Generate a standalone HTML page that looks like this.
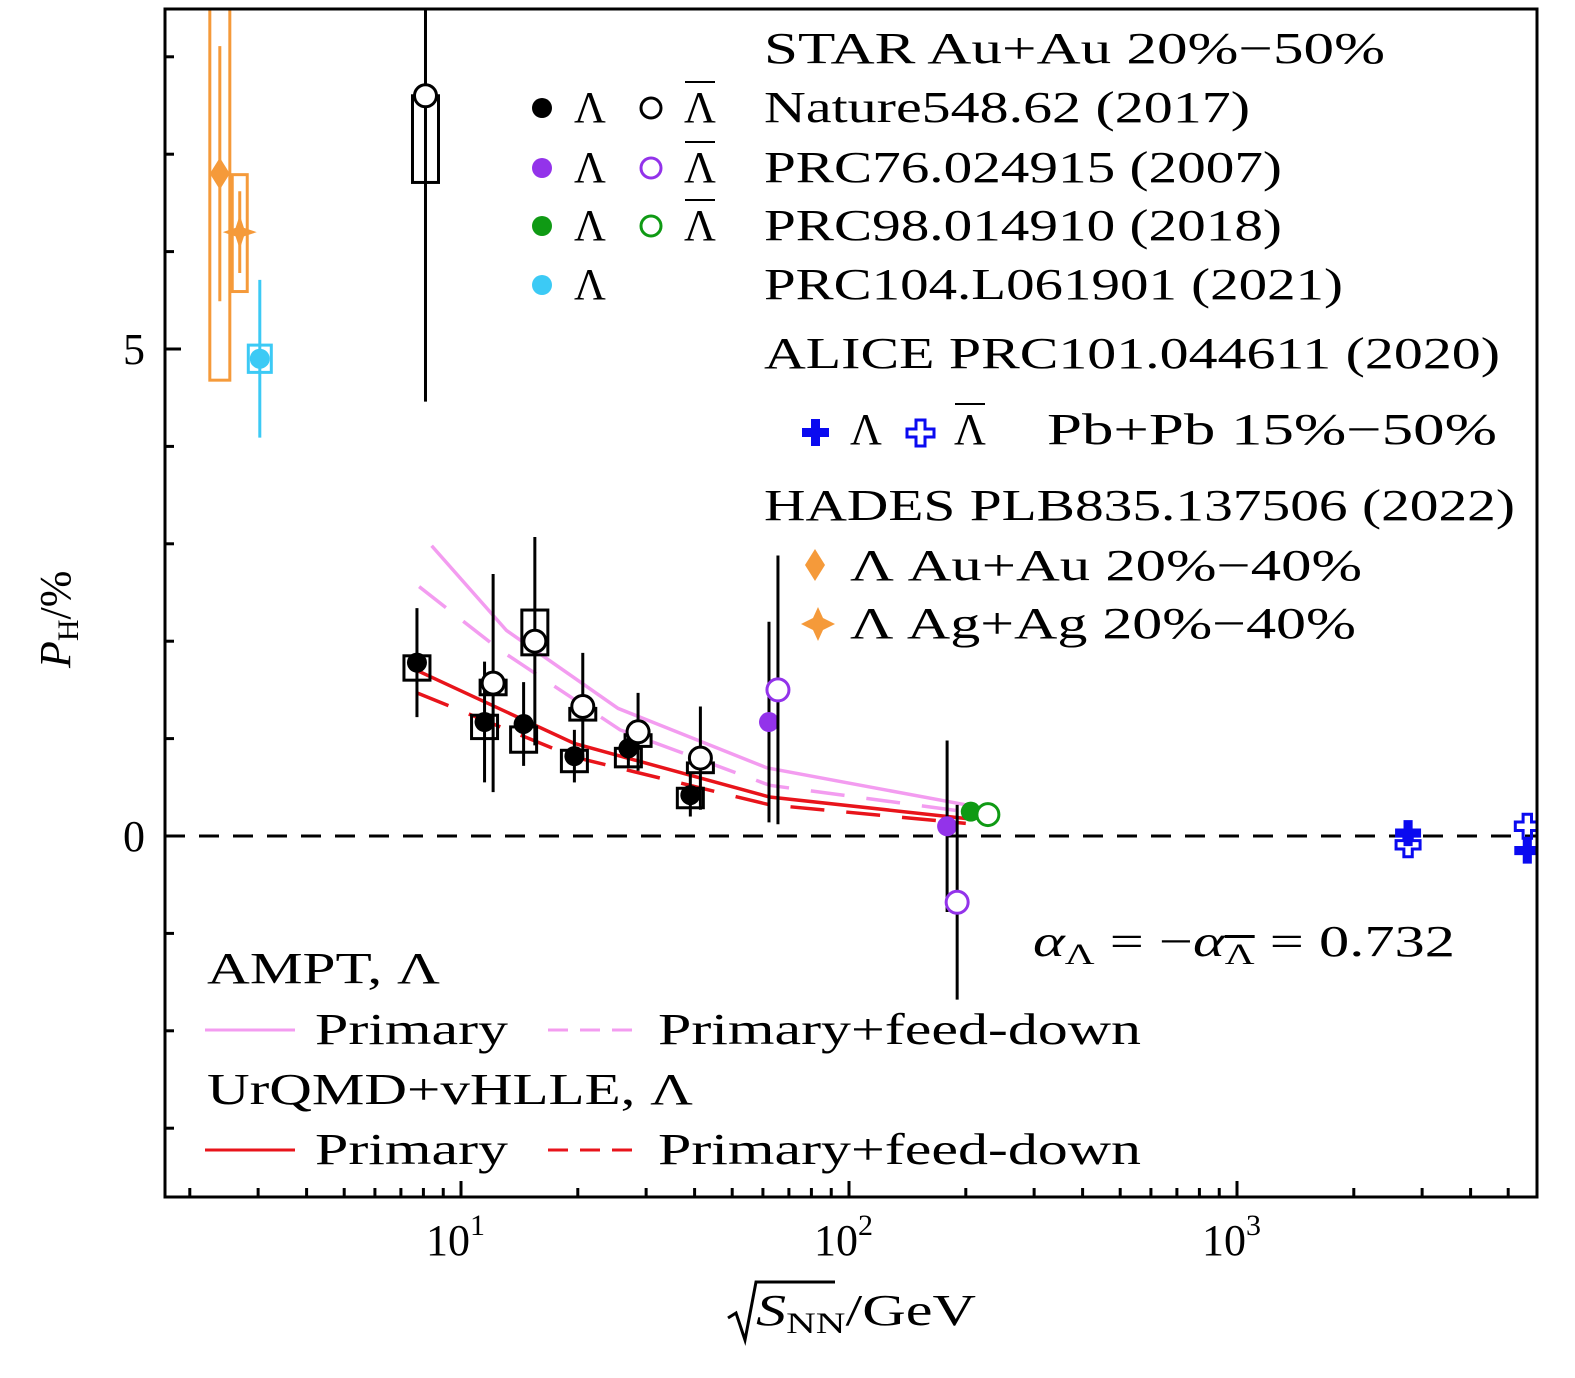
<!DOCTYPE html>
<html><head><meta charset="utf-8"><style>
html,body{margin:0;padding:0;background:#fff}
svg{display:block}
text{font-family:"Liberation Serif",serif;fill:#000}
</style></head><body>
<svg id="chart" width="1575" height="1378" viewBox="0 0 1575 1378" xmlns="http://www.w3.org/2000/svg">
<defs><clipPath id="clip"><rect x="165" y="9" width="1372" height="1188"/></clipPath></defs>
<g id="marks" clip-path="url(#clip)"></g>
<g id="axes"></g>
</svg>
<script>
// ---- data ----
const starX = [7.7, 11.5, 14.5, 19.6, 27, 39];
const starLam = [1.78, 1.17, 1.15, 0.82, 0.90, 0.42];
const starLamErr = [0.56, 0.62, 0.43, 0.27, 0.18, 0.22];
const starLamSysLo = [1.60, 1.00, 0.86, 0.66, 0.71, 0.29];
const starLamSysHi = [1.85, 1.24, 1.12, 0.88, 0.90, 0.49];
const starBarX = [8.1, 12.1, 15.5, 20.6, 28.6, 41.4];
const starBar = [7.60, 1.57, 2.00, 1.33, 1.07, 0.80];
const starBarErr = [3.14, 1.12, 1.07, 0.55, 0.40, 0.53];
const starBarSysLo = [6.71, 1.45, 1.86, 1.19, 0.92, 0.65];
const starBarSysHi = [7.60, 1.60, 2.32, 1.31, 1.04, 0.75];
const prc76X = [62.2, 179];
const prc76Lam = [1.17, 0.10];
const prc76LamErr = [1.03, 0.88];
const prc76BarX = [65.6, 190];
const prc76Bar = [1.50, -0.68];
const prc76BarErr = [1.38, 1.0];
const prc98X = [206];
const prc98Lam = [0.25];
const prc98BarX = [228];
const prc98Bar = [0.22];
const prc104X = [3.03];
const prc104Lam = [4.90];
const prc104Err = [0.81];
const hadesAuX = [2.39];
const hadesAu = [6.80];
const hadesAuErr = [1.31];
const hadesAuSys = [4.68, 8.60];
const hadesAgX = [2.69];
const hadesAg = [6.20];
const hadesAgErr = [0.42];
const hadesAgSys = [5.59, 6.79];
const aliceX = [2760, 5600];
const aliceLam = [0.03, -0.15];
const aliceBar = [-0.09, 0.10];
const amptPrimX = [8.4, 13.1, 25.4, 61.4, 200];
const amptPrim = [2.98, 2.11, 1.31, 0.70, 0.32];
const amptFdX = [7.8, 12.6, 25.7, 62.5, 199];
const amptFd = [2.56, 1.91, 1.09, 0.52, 0.25];
const urqPrimX = [7.7, 19.6, 62.4, 200];
const urqPrim = [1.70, 0.95, 0.40, 0.18];
const urqFdX = [7.7, 19.6, 62.4, 200];
const urqFd = [1.47, 0.81, 0.32, 0.13];
const yTicks = [0, 5];
const xTickLabels = ["1", "2", "3"];

// ---- axes functions ----
const L=165,R=1537,T=9,B=1197;
function X(v){return 461+(Math.log10(v)-1)*388;}
function Y(v){return 836-v*97.4;}
const NS="http://www.w3.org/2000/svg";
function mk(parent,tag,attrs){const e=document.createElementNS(NS,tag);for(const k in attrs)e.setAttribute(k,attrs[k]);document.getElementById(parent).appendChild(e);return e;}

let z=mk('marks','line',{x1:L,x2:R,y1:Y(0),y2:Y(0),stroke:'#000','stroke-width':3,'stroke-dasharray':'20 14'});



function curve(xs,ys,color,dash,name){
  const p=mk('marks','polyline',{points:xs.map((x,i)=>X(x)+','+Y(ys[i])).join(' '),fill:'none',stroke:color,'stroke-width':3.5});
  if(dash)p.setAttribute('stroke-dasharray',dash);
  
  
}
curve(amptPrimX,amptPrim,'#f39cf0',null,'ampt-primary-curve');
curve(amptFdX,amptFd,'#f39cf0','34 22','ampt-feeddown-curve');
curve(urqPrimX,urqPrim,'#e8141b',null,'urqmd-primary-curve');
curve(urqFdX,urqFd,'#e8141b','34 22','urqmd-feeddown-curve');

function errbar(x,y,e,color,name){
  const l=mk('marks','line',{x1:X(x),x2:X(x),y1:Y(y+e),y2:Y(y-e),stroke:color,'stroke-width':3});
  
  
}
function sysbox(x,lo,hi,w,color,name){
  const r=mk('marks','rect',{x:X(x)-w/2,y:Y(hi),width:w,height:Y(lo)-Y(hi),fill:'none',stroke:color,'stroke-width':3});
  
  
}
function circ(x,y,color,filled,name){
  const c=mk('marks','circle',{cx:X(x),cy:Y(y),r:filled?10:11,fill:filled?color:'#fff',stroke:color,'stroke-width':filled?0:3});
  
  
}
function crossPath(cx,cy,s){const a=s*0.35,b=s;return `M${cx-a},${cy-b}H${cx+a}V${cy-a}H${cx+b}V${cy+a}H${cx+a}V${cy+b}H${cx-a}V${cy+a}H${cx-b}V${cy-a}H${cx-a}Z`;}

starX.forEach((x,i)=>{
  sysbox(x,starLamSysLo[i],starLamSysHi[i],26,'#000','star-lambda-sys');
  errbar(x,starLam[i],starLamErr[i],'#000','star-lambda-err');
  circ(x,starLam[i],'#000',true,'star-lambda-point');
});
starBarX.forEach((x,i)=>{
  sysbox(x,starBarSysLo[i],starBarSysHi[i],26,'#000','star-antilambda-sys');
  errbar(x,starBar[i],starBarErr[i],'#000','star-antilambda-err');
  circ(x,starBar[i],'#000',false,'star-antilambda-point');
});
prc76X.forEach((x,i)=>{errbar(x,prc76Lam[i],prc76LamErr[i],'#000','prc76-lambda-err');circ(x,prc76Lam[i],'#9333ea',true,'prc76-lambda-point');});
prc76BarX.forEach((x,i)=>{errbar(x,prc76Bar[i],prc76BarErr[i],'#000','prc76-antilambda-err');circ(x,prc76Bar[i],'#9333ea',false,'prc76-antilambda-point');});
prc98X.forEach((x,i)=>circ(x,prc98Lam[i],'#0f9a14',true,'prc98-lambda-point'));
prc98BarX.forEach((x,i)=>circ(x,prc98Bar[i],'#0f9a14',false,'prc98-antilambda-point'));
prc104X.forEach((x,i)=>{errbar(x,prc104Lam[i],prc104Err[i],'#3ccaf5','prc104-err');sysbox(x,prc104Lam[i]-0.14,prc104Lam[i]+0.14,23,'#3ccaf5','prc104-sys');circ(x,prc104Lam[i],'#3ccaf5',true,'prc104-point');});
hadesAuX.forEach((x,i)=>{
  sysbox(x,hadesAuSys[0],hadesAuSys[1],20,'#f59a3a','hades-au-sys');
  errbar(x,hadesAu[i],hadesAuErr[i],'#f59a3a','hades-au-err');
  const cx=X(x),cy=Y(hadesAu[i]);
  const d=mk('marks','path',{d:`M${cx},${cy-16}L${cx+10},${cy}L${cx},${cy+16}L${cx-10},${cy}Z`,fill:'#f59a3a'});
  
  
});
function starPath(cx,cy,r){let p='';for(let k=0;k<8;k++){const a=-Math.PI/2+k*Math.PI/4;const rr=k%2?r*0.35:r;p+=(k?'L':'M')+(cx+rr*Math.cos(a))+','+(cy+rr*Math.sin(a));}return p+'Z';}
hadesAgX.forEach((x,i)=>{
  sysbox(x,hadesAgSys[0],hadesAgSys[1],15,'#f59a3a','hades-ag-sys');
  errbar(x,hadesAg[i],hadesAgErr[i],'#f59a3a','hades-ag-err');
  const s=mk('marks','path',{d:starPath(X(x),Y(hadesAg[i]),17),fill:'#f59a3a'});
  
  
});
aliceX.forEach((x,i)=>{
  const a=mk('marks','path',{d:crossPath(X(x),Y(aliceLam[i]),13),fill:'#0a0af0'});
  
  
  const b=mk('marks','path',{d:crossPath(X(x),Y(aliceBar[i]),12),fill:'none',stroke:'#0a0af0','stroke-width':3});
  
  
});

let fr=mk('axes','rect',{x:L,y:T,width:R-L,height:B-T,fill:'none',stroke:'#000','stroke-width':3});


for(let v=-3;v<=8;v++){
  const major=yTicks.includes(v);
  const t=mk('axes','line',{x1:L,x2:L+(major?16:9),y1:Y(v),y2:Y(v),stroke:'#000','stroke-width':3});
  
  
}
yTicks.forEach(v=>{
  const t=mk('axes','text',{x:145,y:Y(v)+15,'font-size':44,'text-anchor':'end'});
  t.textContent=String(v);
  
  
});
for(let e=0;e<=3;e++){for(let m=1;m<10;m++){const v=m*Math.pow(10,e);const x=X(v);if(x<L||x>R)continue;
  const t=mk('axes','line',{x1:x,x2:x,y1:B,y2:B-(m==1?16:9),stroke:'#000','stroke-width':3});
  
  }}
xTickLabels.forEach((s,i)=>{
  const t=mk('axes','text',{x:X(Math.pow(10,i+1))-35,y:1255,'font-size':44});
  t.innerHTML='10<tspan dy="-20" font-size="30">'+s+'</tspan>';
  
  
});
</script>
<svg style="position:absolute;left:0;top:0" width="1575" height="1378">
<g font-family="Liberation Serif, serif" font-size="44">
<text transform="translate(70,668) rotate(-90)"><tspan font-style="italic">P</tspan><tspan font-size="30" dy="8">H</tspan><tspan dy="-8">/%</tspan></text>
<g>
<path d="M728,1318 L736,1313 L745,1340 L756,1282 L835,1282" fill="none" stroke="#000" stroke-width="3"/>
<text x="756" y="1325" textLength="220" lengthAdjust="spacingAndGlyphs"><tspan font-style="italic">S</tspan><tspan font-size="30" dy="8">NN</tspan><tspan dy="-8">/GeV</tspan></text>
</g>
<text x="764" y="63" textLength="621" lengthAdjust="spacingAndGlyphs">STAR Au+Au 20%−50%</text>
<circle cx="542" cy="108" r="10" fill="#000"/><text x="574" y="122">Λ</text>
<circle cx="651" cy="108" r="10" fill="#fff" stroke="#000" stroke-width="3"/><text x="684" y="122">Λ</text><line x1="685" x2="715" y1="82" y2="82" stroke="#000" stroke-width="2"/>
<text x="764" y="122" textLength="486" lengthAdjust="spacingAndGlyphs">Nature548.62 (2017)</text>
<circle cx="542" cy="168" r="10" fill="#9333ea"/><text x="574" y="182">Λ</text>
<circle cx="651" cy="168" r="10" fill="#fff" stroke="#9333ea" stroke-width="3"/><text x="684" y="182">Λ</text><line x1="685" x2="715" y1="142" y2="142" stroke="#000" stroke-width="2"/>
<text x="764" y="182" textLength="518" lengthAdjust="spacingAndGlyphs">PRC76.024915 (2007)</text>
<circle cx="542" cy="226" r="10" fill="#0f9a14"/><text x="574" y="240">Λ</text>
<circle cx="651" cy="226" r="10" fill="#fff" stroke="#0f9a14" stroke-width="3"/><text x="684" y="240">Λ</text><line x1="685" x2="715" y1="200" y2="200" stroke="#000" stroke-width="2"/>
<text x="764" y="240" textLength="518" lengthAdjust="spacingAndGlyphs">PRC98.014910 (2018)</text>
<circle cx="542" cy="285" r="10" fill="#3ccaf5"/><text x="574" y="299">Λ</text>
<text x="764" y="299" textLength="579" lengthAdjust="spacingAndGlyphs">PRC104.L061901 (2021)</text>
<text x="764" y="368" textLength="736" lengthAdjust="spacingAndGlyphs">ALICE PRC101.044611 (2020)</text>
<path d="M811,419H820V428H829V437H820V446H811V437H802V428H811Z" fill="#0a0af0"/>
<text x="850" y="444">Λ</text>
<path d="M916,420H925V429H934V437H925V446H916V437H907V429H916Z" fill="none" stroke="#0a0af0" stroke-width="3"/>
<text x="954" y="444">Λ</text><line x1="955" x2="985" y1="404" y2="404" stroke="#000" stroke-width="2"/>
<text x="1047" y="444" textLength="450" lengthAdjust="spacingAndGlyphs">Pb+Pb 15%−50%</text>
<text x="764" y="520" textLength="751" lengthAdjust="spacingAndGlyphs">HADES PLB835.137506 (2022)</text>
<path d="M815,549L825,565L815,581L805,565Z" fill="#f59a3a"/>
<text x="850" y="580" textLength="512" lengthAdjust="spacingAndGlyphs">Λ Au+Au 20%−40%</text>
<path d="M818,607L823,618L835,624L823,630L818,641L813,630L801,624L813,618Z" fill="#f59a3a"/>
<text x="850" y="638" textLength="506" lengthAdjust="spacingAndGlyphs">Λ Ag+Ag 20%−40%</text>
<text x="1033" y="956" textLength="422" lengthAdjust="spacingAndGlyphs"><tspan font-style="italic">α</tspan><tspan font-size="30" dy="8">Λ</tspan><tspan dy="-8"> = −</tspan><tspan font-style="italic">α</tspan><tspan font-size="30" dy="8" text-decoration="overline">Λ</tspan><tspan dy="-8"> = 0.732</tspan></text>
<text x="207" y="983" textLength="233" lengthAdjust="spacingAndGlyphs">AMPT, Λ</text>
<line x1="205" x2="295" y1="1030" y2="1030" stroke="#f39cf0" stroke-width="3"/>
<text x="315" y="1044" textLength="193" lengthAdjust="spacingAndGlyphs">Primary</text>
<line x1="548" x2="640" y1="1030" y2="1030" stroke="#f39cf0" stroke-width="3" stroke-dasharray="20 12"/>
<text x="658" y="1044" textLength="483" lengthAdjust="spacingAndGlyphs">Primary+feed-down</text>
<text x="207" y="1104" textLength="486" lengthAdjust="spacingAndGlyphs">UrQMD+vHLLE, Λ</text>
<line x1="205" x2="295" y1="1150" y2="1150" stroke="#e8141b" stroke-width="3"/>
<text x="315" y="1164" textLength="193" lengthAdjust="spacingAndGlyphs">Primary</text>
<line x1="548" x2="640" y1="1150" y2="1150" stroke="#e8141b" stroke-width="3" stroke-dasharray="20 12"/>
<text x="658" y="1164" textLength="483" lengthAdjust="spacingAndGlyphs">Primary+feed-down</text>
</g>
</svg>
</body></html>
